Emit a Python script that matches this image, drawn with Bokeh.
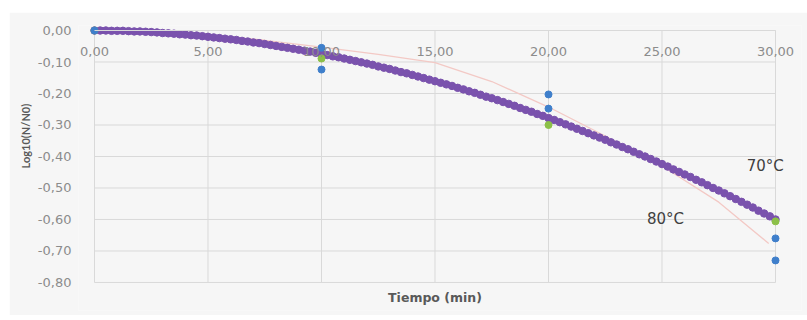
from bokeh.plotting import figure
from bokeh.models import Range1d, FixedTicker, Label, Title
from bokeh.embed import file_html
from bokeh.resources import INLINE

# ---------------- data ----------------
x_ticks = [0, 5, 10, 15, 20, 25, 30]
x_tick_labels = ["0,00", "5,00", "10,00", "15,00", "20,00", "25,00", "30,00"]
y_ticks = [0.0, -0.1, -0.2, -0.3, -0.4, -0.5, -0.6, -0.7, -0.8]
y_tick_labels = ["0,00", "-0,10", "-0,20", "-0,30", "-0,40", "-0,50", "-0,60", "-0,70", "-0,80"]

# observed points (blue and green)
blue_t = [0, 10, 10, 20, 20, 30, 30]
blue_y = [0.0, -0.055, -0.124, -0.203, -0.248, -0.660, -0.730]
green_t = [0, 10, 20, 30]
green_y = [0.0, -0.089, -0.300, -0.606]

# model curve drawn as dense purple markers (70 °C)
purple_t = [i * 0.25 for i in range(121)]
purple_y = [
    0.000, 0.000, 0.000, -0.001, -0.001, -0.001, -0.002, -0.003, -0.003, -0.004,
    -0.005, -0.006, -0.008, -0.009, -0.010, -0.012, -0.013, -0.015, -0.016, -0.018,
    -0.020, -0.022, -0.024, -0.026, -0.028, -0.030, -0.033, -0.035, -0.038, -0.040,
    -0.043, -0.046, -0.049, -0.052, -0.055, -0.058, -0.061, -0.064, -0.067, -0.071,
    -0.074, -0.078, -0.082, -0.085, -0.089, -0.093, -0.097, -0.101, -0.105, -0.109,
    -0.114, -0.118, -0.122, -0.127, -0.132, -0.136, -0.141, -0.146, -0.151, -0.156,
    -0.161, -0.166, -0.171, -0.176, -0.182, -0.187, -0.193, -0.198, -0.204, -0.210,
    -0.215, -0.221, -0.227, -0.233, -0.239, -0.246, -0.252, -0.258, -0.265, -0.271,
    -0.278, -0.284, -0.291, -0.298, -0.305, -0.312, -0.319, -0.326, -0.333, -0.340,
    -0.347, -0.355, -0.362, -0.370, -0.377, -0.385, -0.393, -0.400, -0.408, -0.416,
    -0.424, -0.432, -0.441, -0.449, -0.457, -0.465, -0.474, -0.482, -0.491, -0.500,
    -0.508, -0.517, -0.526, -0.535, -0.544, -0.553, -0.562, -0.572, -0.581, -0.590,
    -0.600,
]

# faint pink model line (80 °C)
pink_t = [0, 2.5, 5, 7.5, 10, 12.5, 15, 17.5, 20, 22.5, 25, 27.5, 29.7]
pink_y = [0.0, -0.004, -0.014, -0.031, -0.053, -0.076, -0.102, -0.162, -0.243, -0.335, -0.430, -0.545, -0.676]

temp_labels = ["70°C", "80°C"]
x_title = "Tiempo (min)"
y_title = "Log10(N/N0)"

# ---------------- figure ----------------
GRID = "#d9d9d9"
TICK_COL = "#8c8c8c"
TITLE_COL = "#595959"
BG = "#f6f6f6"

p = figure(frame_width=723, frame_height=285,
           x_range=Range1d(-0.705, 31.145), y_range=Range1d(-0.889, 0.0159),
           output_backend="svg", toolbar_location=None,
           min_border_left=69, min_border_top=13, min_border_right=6, min_border_bottom=5)
p.margin = (12, 0, 0, 9)
p.background_fill_color = BG
p.border_fill_color = BG
p.outline_line_color = None
p.xgrid.visible = False
p.ygrid.visible = False

# gridlines drawn from the tick arrays, bounded to the axis extents
p.segment(x0=x_ticks, y0=[min(y_ticks)] * len(x_ticks), x1=x_ticks, y1=[max(y_ticks)] * len(x_ticks),
          line_color=GRID, line_width=1)
p.segment(x0=[min(x_ticks)] * len(y_ticks), y0=y_ticks, x1=[max(x_ticks)] * len(y_ticks), y1=y_ticks,
          line_color=GRID, line_width=1)

xa = p.xaxis[0]
xa.fixed_location = 0
xa.ticker = FixedTicker(ticks=x_ticks)
xa.major_label_overrides = dict(zip(x_ticks, x_tick_labels))
xa.major_tick_line_color = None
xa.minor_tick_line_color = None
xa.axis_line_color = GRID
xa.bounds = (min(x_ticks), max(x_ticks))
xa.major_label_standoff = 10
xa.major_label_text_font = "DejaVu Sans"
xa.major_label_text_font_size = "13px"
xa.major_label_text_color = TICK_COL

ya = p.yaxis[0]
ya.ticker = FixedTicker(ticks=y_ticks)
ya.major_label_overrides = dict(zip(y_ticks, y_tick_labels))
ya.major_tick_line_color = None
ya.minor_tick_line_color = None
ya.axis_line_color = None
ya.major_label_standoff = 1
ya.major_label_text_font = "DejaVu Sans"
ya.major_label_text_font_size = "13px"
ya.major_label_text_color = TICK_COL

# series
p.line(pink_t, pink_y, line_color="#f3c9c5", line_width=1.3)
p.scatter(purple_t, purple_y, size=7.5, fill_color="#7a52ad", line_color="#7a52ad")
p.scatter(green_t, green_y, size=7, fill_color="#8cc048", line_color="#8cc048")
p.scatter(blue_t, blue_y, size=7, fill_color="#3f7fcb", line_color="#3f7fcb")

# annotations
p.add_layout(Label(x=29.55, y=-0.43, text=temp_labels[0], text_font="DejaVu Sans",
                   text_font_size="15px", text_color="#404040",
                   text_align="center", text_baseline="middle"))
p.add_layout(Label(x=25.15, y=-0.60, text=temp_labels[1], text_font="DejaVu Sans",
                   text_font_size="15px", text_color="#404040",
                   text_align="center", text_baseline="middle"))
p.add_layout(Label(x=15.0, y=-0.848, text=x_title, text_font="DejaVu Sans",
                   text_font_size="12.5px", text_font_style="bold", text_color=TITLE_COL,
                   text_align="center", text_baseline="middle"))
p.add_layout(Title(text=y_title, align="left", offset=142, text_font="Lato",
                   text_font_size="11px", text_font_style="bold", text_color=TITLE_COL,
                   standoff=6), "left")

open("out.html", "w").write(file_html(p, INLINE))
